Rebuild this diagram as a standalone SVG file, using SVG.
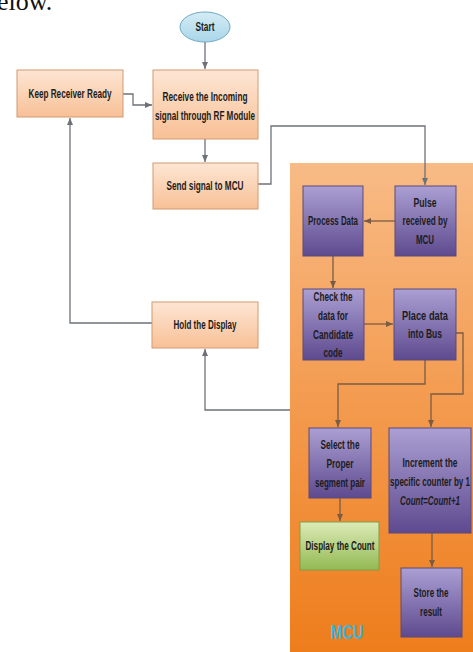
<svg xmlns="http://www.w3.org/2000/svg" width="473" height="652" viewBox="0 0 473 652">
<defs>
<linearGradient id="peach" x1="0" y1="0" x2="0" y2="1"><stop offset="0" stop-color="#fde6d4"/><stop offset="1" stop-color="#f8c096"/></linearGradient>
<linearGradient id="purple" x1="0" y1="0" x2="0" y2="1"><stop offset="0" stop-color="#ab9fd3"/><stop offset="1" stop-color="#5e4a8f"/></linearGradient>
<linearGradient id="green" x1="0" y1="0" x2="0" y2="1"><stop offset="0" stop-color="#dcebb8"/><stop offset="1" stop-color="#93b952"/></linearGradient>
<linearGradient id="orange" x1="0" y1="0" x2="0" y2="1"><stop offset="0" stop-color="#f8bb86"/><stop offset="0.5" stop-color="#f39a4e"/><stop offset="1" stop-color="#ee7d1c"/></linearGradient>
<linearGradient id="ell" x1="0" y1="0" x2="0" y2="1"><stop offset="0" stop-color="#d4ecf5"/><stop offset="1" stop-color="#a9d6e8"/></linearGradient>
<marker id="ag" markerWidth="8" markerHeight="8" refX="7" refY="4" orient="auto" markerUnits="userSpaceOnUse"><path d="M0,1 L7,4 L0,7 z" fill="#6e7278"/></marker>
<marker id="ab" markerWidth="8" markerHeight="8" refX="7" refY="4" orient="auto" markerUnits="userSpaceOnUse"><path d="M0,1 L7,4 L0,7 z" fill="#7a5c44"/></marker>
</defs>
<style>
.t{font-family:"Liberation Sans",Arial,sans-serif;font-weight:bold;font-size:12px;fill:#1c1c1c;text-anchor:middle}
.pe{fill:url(#peach);stroke:#d29a70;stroke-width:1}
.pu{fill:url(#purple);stroke:#5a4a7a;stroke-width:1}
.gr{fill:url(#green);stroke:#7f9e48;stroke-width:1}
.cg{fill:none;stroke:#6e7278;stroke-width:1.3}
.cb{fill:none;stroke:#7a5c44;stroke-width:1.3}
</style>
<rect width="473" height="652" fill="#ffffff"/>
<text x="-3" y="10" font-family="Liberation Serif,serif" font-size="26" fill="#111">elow.</text>
<rect id="mcu-region" x="290" y="163" width="183" height="489" fill="url(#orange)"/>
<g id="connectors">
<path class="cg" d="M205,42 V69" marker-end="url(#ag)"/>
<path class="cg" d="M123,94 H133 V105 H152" marker-end="url(#ag)"/>
<path class="cg" d="M205,139 V162" marker-end="url(#ag)"/>
<path class="cg" d="M258,184 H271 V126 H425 V185" marker-end="url(#ag)"/>
<path class="cb" d="M395,221 H364" marker-end="url(#ab)"/>
<path class="cb" d="M333,256 V288" marker-end="url(#ab)"/>
<path class="cb" d="M364,324 H393" marker-end="url(#ab)"/>
<path class="cb" d="M425,360 V384 H338 V427" marker-end="url(#ab)"/>
<path class="cb" d="M456,333 H463 V394 H431 V427" marker-end="url(#ab)"/>
<path class="cb" d="M340,498 V521" marker-end="url(#ab)"/>
<path class="cb" d="M432,533 V567" marker-end="url(#ab)"/>
<path class="cg" d="M290,410 H205 V349" marker-end="url(#ag)"/>
<path class="cg" d="M152,323 H70 V118" marker-end="url(#ag)"/>
</g>
<g id="start"><ellipse cx="205" cy="27" rx="25" ry="15" fill="url(#ell)" stroke="#6fa8c4" stroke-width="1"/><text class="t" x="205" y="31" font-size="11" textLength="19" lengthAdjust="spacingAndGlyphs">Start</text></g>
<g id="keep"><rect class="pe" x="17" y="70" width="106" height="47"/><text class="t" x="70" y="98" textLength="83" lengthAdjust="spacingAndGlyphs">Keep Receiver Ready</text></g>
<g id="receive"><rect class="pe" x="153" y="70" width="105" height="69"/><text class="t" x="205" y="101" textLength="85" lengthAdjust="spacingAndGlyphs">Receive the Incoming</text><text class="t" x="205" y="120" textLength="100" lengthAdjust="spacingAndGlyphs">signal through RF Module</text></g>
<g id="send"><rect class="pe" x="153" y="163" width="105" height="46"/><text class="t" x="205" y="190" textLength="77" lengthAdjust="spacingAndGlyphs">Send signal to MCU</text></g>
<g id="hold"><rect class="pe" x="152" y="302" width="106" height="46"/><text class="t" x="205" y="329" textLength="63" lengthAdjust="spacingAndGlyphs">Hold the Display</text></g>
<g id="process"><rect class="pu" x="303" y="186" width="60" height="70"/><text class="t" x="333" y="225" textLength="50" lengthAdjust="spacingAndGlyphs">Process Data</text></g>
<g id="pulse"><rect class="pu" x="395" y="186" width="61" height="70"/><text class="t" x="425" y="207" textLength="23" lengthAdjust="spacingAndGlyphs">Pulse</text><text class="t" x="425" y="225" textLength="45" lengthAdjust="spacingAndGlyphs">received by</text><text class="t" x="425" y="244" textLength="18" lengthAdjust="spacingAndGlyphs">MCU</text></g>
<g id="check"><rect class="pu" x="303" y="289" width="61" height="71"/><text class="t" x="333" y="301" textLength="39" lengthAdjust="spacingAndGlyphs">Check the</text><text class="t" x="333" y="320" textLength="30" lengthAdjust="spacingAndGlyphs">data for</text><text class="t" x="333" y="339" textLength="40" lengthAdjust="spacingAndGlyphs">Candidate</text><text class="t" x="333" y="357" textLength="19" lengthAdjust="spacingAndGlyphs">code</text></g>
<g id="place"><rect class="pu" x="394" y="289" width="62" height="71"/><text class="t" x="425" y="320" textLength="46" lengthAdjust="spacingAndGlyphs">Place data</text><text class="t" x="425" y="338" textLength="34" lengthAdjust="spacingAndGlyphs">into Bus</text></g>
<g id="select"><rect class="pu" x="309" y="428" width="62" height="70"/><text class="t" x="340" y="449" textLength="39" lengthAdjust="spacingAndGlyphs">Select the</text><text class="t" x="340" y="468" textLength="27" lengthAdjust="spacingAndGlyphs">Proper</text><text class="t" x="340" y="487" textLength="50" lengthAdjust="spacingAndGlyphs">segment pair</text></g>
<g id="display"><rect class="gr" x="300" y="522" width="79" height="48"/><text class="t" x="340" y="550" textLength="69" lengthAdjust="spacingAndGlyphs">Display the Count</text></g>
<g id="increment"><rect class="pu" x="389" y="428" width="82" height="105"/><text class="t" x="430" y="467" textLength="55" lengthAdjust="spacingAndGlyphs">Increment the</text><text class="t" x="430" y="486" textLength="80" lengthAdjust="spacingAndGlyphs">specific counter by 1</text><text class="t" x="430" y="505" font-style="italic" textLength="60" lengthAdjust="spacingAndGlyphs">Count=Count+1</text></g>
<g id="store"><rect class="pu" x="401" y="568" width="61" height="69"/><text class="t" x="431" y="597" textLength="35" lengthAdjust="spacingAndGlyphs">Store the</text><text class="t" x="431" y="616" textLength="22" lengthAdjust="spacingAndGlyphs">result</text></g>
<text id="mcu-label" x="347" y="639" font-family="Liberation Sans,sans-serif" font-weight="bold" font-size="20" fill="#3db4dc" text-anchor="middle" textLength="33" lengthAdjust="spacingAndGlyphs">MCU</text>
</svg>
